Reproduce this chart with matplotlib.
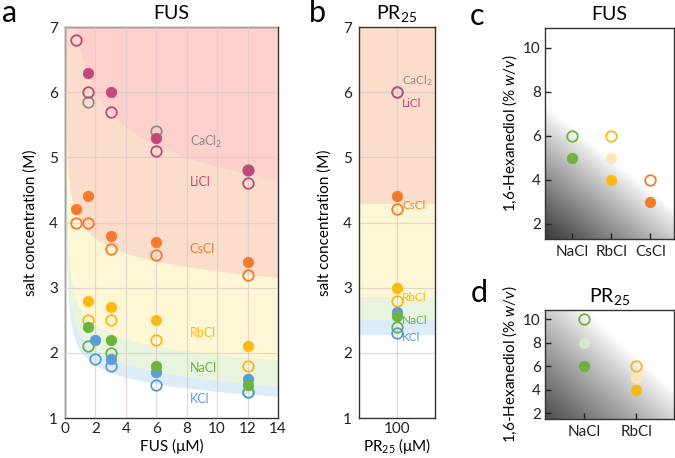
import numpy as np
import matplotlib
matplotlib.use("Agg")
import matplotlib.pyplot as plt

plt.rcParams['font.family'] = ['Lato', 'DejaVu Sans']
plt.rcParams['mathtext.fontset'] = 'custom'
plt.rcParams['mathtext.rm'] = 'Lato'
plt.rcParams['mathtext.it'] = 'Lato:italic'
plt.rcParams['mathtext.bf'] = 'Lato:bold'

# ---------------- data ----------------
salts = ['CaCl2', 'LiCl', 'CsCl', 'RbCl', 'NaCl', 'KCl']
salt_labels = ['CaCl$_2$', 'LiCl', 'CsCl', 'RbCl', 'NaCl', 'KCl']
colors = {'CaCl2': '#8c8c8c', 'LiCl': '#c0487c', 'CsCl': '#f47b2c',
          'RbCl': '#fdb913', 'NaCl': '#6db33f', 'KCl': '#5b9bd8'}

# panel a: FUS (uM) vs salt (M); filled = droplets, open = no droplets
fus_filled = {
    'LiCl': ([1.5, 3, 6, 12], [6.3, 6.0, 5.3, 4.8]),
    'CsCl': ([0.75, 1.5, 3, 6, 12], [4.2, 4.4, 3.8, 3.7, 3.4]),
    'RbCl': ([1.5, 3, 6, 12], [2.8, 2.7, 2.5, 2.1]),
    'KCl': ([2, 3, 6, 12], [2.2, 1.9, 1.7, 1.6]),
    'NaCl': ([1.5, 3, 6, 12], [2.4, 2.2, 1.8, 1.5]),
}
fus_open = {
    'CaCl2': ([1.5, 6, 12], [5.85, 5.4, 4.8]),
    'LiCl': ([0.75, 1.5, 3, 6, 12], [6.8, 6.0, 5.7, 5.1, 4.6]),
    'CsCl': ([0.75, 1.5, 3, 6, 12], [4.0, 4.0, 3.6, 3.5, 3.2]),
    'RbCl': ([1.5, 3, 6, 12], [2.5, 2.5, 2.2, 1.8]),
    'NaCl': ([1.5, 3, 12], [2.1, 2.0, 1.4]),
    'KCl': ([2, 3, 6, 12], [1.9, 1.8, 1.5, 1.4]),
}
fus_label_y = {'CaCl2': 5.23, 'LiCl': 4.62, 'CsCl': 3.6, 'RbCl': 2.31, 'NaCl': 1.77, 'KCl': 1.29}

# phase boundaries (band lower edges)
band_order = ['KCl', 'NaCl', 'RbCl', 'CsCl', 'LiCl']
band_colors = {'KCl': '#ddecf9', 'NaCl': '#e8f4dd', 'RbCl': '#fef7d6',
               'CsCl': '#fcdccb', 'LiCl': '#fdd0cc'}
band_x = {
    'LiCl': [0.8, 1.9, 3.9, 7.2, 14.0],
    'CsCl': [0.2, 0.35, 1.1, 2.0, 4.1, 6.5, 14.0],
    'RbCl': [0.3, 0.8, 1.5, 4.1, 7.0, 14.0],
    'NaCl': [0.3, 0.8, 1.5, 4.1, 7.2, 14.0],
    'KCl': [0.3, 0.8, 1.5, 4.1, 7.0, 14.0],
}
band_y = {
    'LiCl': [7.0, 6.0, 5.55, 5.07, 4.63],
    'CsCl': [5.0, 4.5, 3.98, 3.77, 3.55, 3.4, 3.11],
    'RbCl': [3.4, 2.8, 2.47, 2.22, 2.1, 1.85],
    'NaCl': [2.9, 2.35, 2.13, 1.83, 1.69, 1.45],
    'KCl': [2.7, 2.1, 1.9, 1.63, 1.52, 1.29],
}

# panel b: PR25 100 uM
pr_x = 100
pr_filled = {'CsCl': 4.4, 'RbCl': 3.0, 'KCl': 2.62, 'NaCl': 2.57}
pr_open = {'CaCl2': 6.0, 'LiCl': 6.0, 'CsCl': 4.2, 'RbCl': 2.8, 'NaCl': 2.4, 'KCl': 2.3}
pr_label_y = {'CaCl2': 6.18, 'LiCl': 5.83, 'CsCl': 4.26, 'RbCl': 2.85, 'NaCl': 2.5, 'KCl': 2.23}
pr_bands = [('CsCl', 4.28, 7.0), ('RbCl', 2.85, 4.28), ('NaCl', 2.5, 2.85), ('KCl', 2.27, 2.5)]
pr_band_colors = {'CsCl': '#fcdccb', 'RbCl': '#fef7d6', 'NaCl': '#e8f4dd', 'KCl': '#ddecf9'}

# panel c: FUS hexanediol
c_cats = ['NaCl', 'RbCl', 'CsCl']
c_open = [6, 6, 4]
c_partial = [None, 5, None]
c_filled = [5, 4, 3]

# panel d: PR25 hexanediol
d_cats = ['NaCl', 'RbCl']
d_open = [10, 6]
d_partial = [8, 5]
d_filled = [6, 4]
faded = {'NaCl': '#d6e8c8', 'RbCl': '#fce6b8', 'CsCl': '#fbd9c2'}

# ---------------- figure ----------------
fig = plt.figure(figsize=(6.75, 4.58), dpi=100)
W, H = 675, 458

def ax_at(l, r, t, b):
    return fig.add_axes([l / W, 1 - b / H, (r - l) / W, (b - t) / H])

axa = ax_at(65, 278, 27, 418)
axb = ax_at(359, 435, 27, 418)
axc = ax_at(545, 674, 28, 239)
axd = ax_at(545, 674, 310, 419)

ms = 7.6
mew = 1.3
spine_c = '#333333'
grid_c = '#d6ccc8'

def style(ax):
    for s in ax.spines.values():
        s.set_color(spine_c)
        s.set_linewidth(1.0)

def smooth_fit(xs, ys, xg):
    xs = np.asarray(xs, float); ys = np.asarray(ys, float)
    A = np.column_stack([np.ones_like(xs), np.log(xs), 1 / xs])
    coef, *_ = np.linalg.lstsq(A, ys, rcond=None)
    return coef[0] + coef[1] * np.log(xg) + coef[2] / xg

# ---- panel a ----
xg = np.linspace(0.02, 14, 800)
for s in band_order:
    yl = smooth_fit(band_x[s], band_y[s], xg)
    axa.fill_between(xg, yl, 8, color=band_colors[s], lw=0, zorder=0)
axa.set_xlim(0, 14)
axa.set_ylim(1, 7)
axa.set_xticks(range(0, 15, 2))
axa.set_yticks(range(1, 8))
axa.grid(True, color=grid_c, lw=0.9, alpha=0.7, zorder=1)
axa.set_axisbelow(False)
for s in ['CaCl2', 'LiCl', 'CsCl', 'RbCl', 'NaCl', 'KCl']:
    if s in fus_open:
        x, y = fus_open[s]
        axa.plot(x, y, 'o', ms=ms, mfc='none', mec=colors[s], mew=mew, ls='none', zorder=3)
for s in ['LiCl', 'CsCl', 'RbCl', 'KCl', 'NaCl']:
    x, y = fus_filled[s]
    axa.plot(x, y, 'o', ms=ms, mfc=colors[s], mec=colors[s], mew=0.5, ls='none', zorder=4)
for s, lab in zip(salts, salt_labels):
    axa.text(8.2, fus_label_y[s], lab, color=colors[s], fontsize=9, va='center', ha='left', zorder=5)
axa.tick_params(length=0, labelsize=11, pad=5, colors='#222222')
axa.tick_params(axis='x', pad=3)
axa.set_xlabel('FUS (μM)', fontsize=11, labelpad=2)
axa.set_ylabel('salt concentration (M)', fontsize=11, labelpad=8)
axa.set_title('FUS', fontsize=14, pad=6)
style(axa)

# ---- panel b ----
for s, lo, hi in pr_bands:
    axb.axhspan(lo, hi, color=pr_band_colors[s], lw=0, zorder=0)
axb.set_xlim(50, 150)
axb.set_ylim(1, 7)
axb.set_xticks([100])
axb.set_yticks(range(1, 8))
axb.grid(True, color=grid_c, lw=0.9, alpha=0.7, zorder=1)
for s in ['CaCl2', 'LiCl', 'CsCl', 'RbCl', 'NaCl', 'KCl']:
    axb.plot([pr_x], [pr_open[s]], 'o', ms=ms, mfc='none', mec=colors[s], mew=mew,
             alpha=0.85 if s == 'LiCl' else 1, ls='none', zorder=3)
for s in ['CsCl', 'RbCl', 'KCl', 'NaCl']:
    axb.plot([pr_x], [pr_filled[s]], 'o', ms=ms, mfc=colors[s], mec=colors[s], mew=0.5, ls='none', zorder=4)
for s, lab in zip(salts, salt_labels):
    axb.text(107, pr_label_y[s], lab, color=colors[s], fontsize=8.5, va='center', ha='left', zorder=5)
axb.tick_params(length=0, labelsize=11, pad=5, colors='#222222')
axb.tick_params(axis='x', pad=3)
axb.set_xlabel('PR$_{25}$ (μM)', fontsize=11, labelpad=0)
axb.set_ylabel('salt concentration (M)', fontsize=11, labelpad=8)
axb.set_title('PR$_{25}$', fontsize=14, pad=6)
style(axb)

# ---- gradient helper ----
def gradient(ax, v0, v1, dark=0.25, gamma=0.9):
    n = 300
    u = np.linspace(0, 1, n)
    v = np.linspace(0, 1, n)
    U, V = np.meshgrid(u, v)
    line = v0 + (v1 - v0) * U
    d = np.clip(line - V, 0, None) / v0
    g = 1 - (1 - dark) * np.clip(d, 0, 1) ** gamma
    img = np.dstack([g, g, g])
    ax.imshow(img, extent=(0, 1, 0, 1), origin='lower', transform=ax.transAxes,
              aspect='auto', zorder=0, interpolation='bilinear')

# ---- panel c ----
gradient(axc, 0.63, 0.14, dark=0.22)
xc = np.arange(1, len(c_cats) + 1)
for i, s in enumerate(c_cats):
    axc.plot([xc[i]], [c_open[i]], 'o', ms=ms, mfc='none', mec=colors[s], mew=mew, zorder=3)
    if c_partial[i] is not None:
        axc.plot([xc[i]], [c_partial[i]], 'o', ms=ms, mfc=faded[s], mec=faded[s], mew=0.5, zorder=3)
    axc.plot([xc[i]], [c_filled[i]], 'o', ms=ms, mfc=colors[s], mec=colors[s], mew=0.5, zorder=3)
axc.set_xlim(0.32, 3.6)
axc.set_ylim(1.3, 10.9)
axc.set_xticks(xc)
axc.set_xticklabels(c_cats)
axc.set_yticks([2, 4, 6, 8, 10])
axc.tick_params(direction='in', length=4, width=1, labelsize=11, colors='#222222', pad=3)
axc.tick_params(axis='x', pad=4)
axc.set_ylabel('1,6-Hexanediol (% $w/v$)', fontsize=11, labelpad=3)
axc.set_title('FUS', fontsize=14, pad=6)
style(axc)

# ---- panel d ----
gradient(axd, 1.32, 0.26, dark=0.3)
xd = np.arange(1, len(d_cats) + 1)
for i, s in enumerate(d_cats):
    axd.plot([xd[i]], [d_open[i]], 'o', ms=ms, mfc='none', mec=colors[s], mew=mew, zorder=3)
    axd.plot([xd[i]], [d_partial[i]], 'o', ms=ms, mfc=faded[s], mec=faded[s], mew=0.5, zorder=3)
    axd.plot([xd[i]], [d_filled[i]], 'o', ms=ms, mfc=colors[s], mec=colors[s], mew=0.5, zorder=3)
axd.set_xlim(0.26, 2.72)
axd.set_ylim(1.5, 10.77)
axd.set_xticks(xd)
axd.set_xticklabels(d_cats)
axd.set_yticks([2, 4, 6, 8, 10])
axd.tick_params(direction='in', length=4, width=1, labelsize=11, colors='#222222', pad=3)
axd.tick_params(axis='x', pad=4)
axd.set_ylabel('1,6-Hexanediol (% $w/v$)', fontsize=11, labelpad=3)
axd.set_title('PR$_{25}$', fontsize=14, pad=6)
style(axd)

# panel letters
for lab, x, y in [('a', 10, 13), ('b', 317, 13), ('c', 477, 16), ('d', 479, 293)]:
    fig.text(x / W, 1 - y / H, lab, fontsize=22, ha='center', va='center')

fig.savefig('out.png', dpi=100)
